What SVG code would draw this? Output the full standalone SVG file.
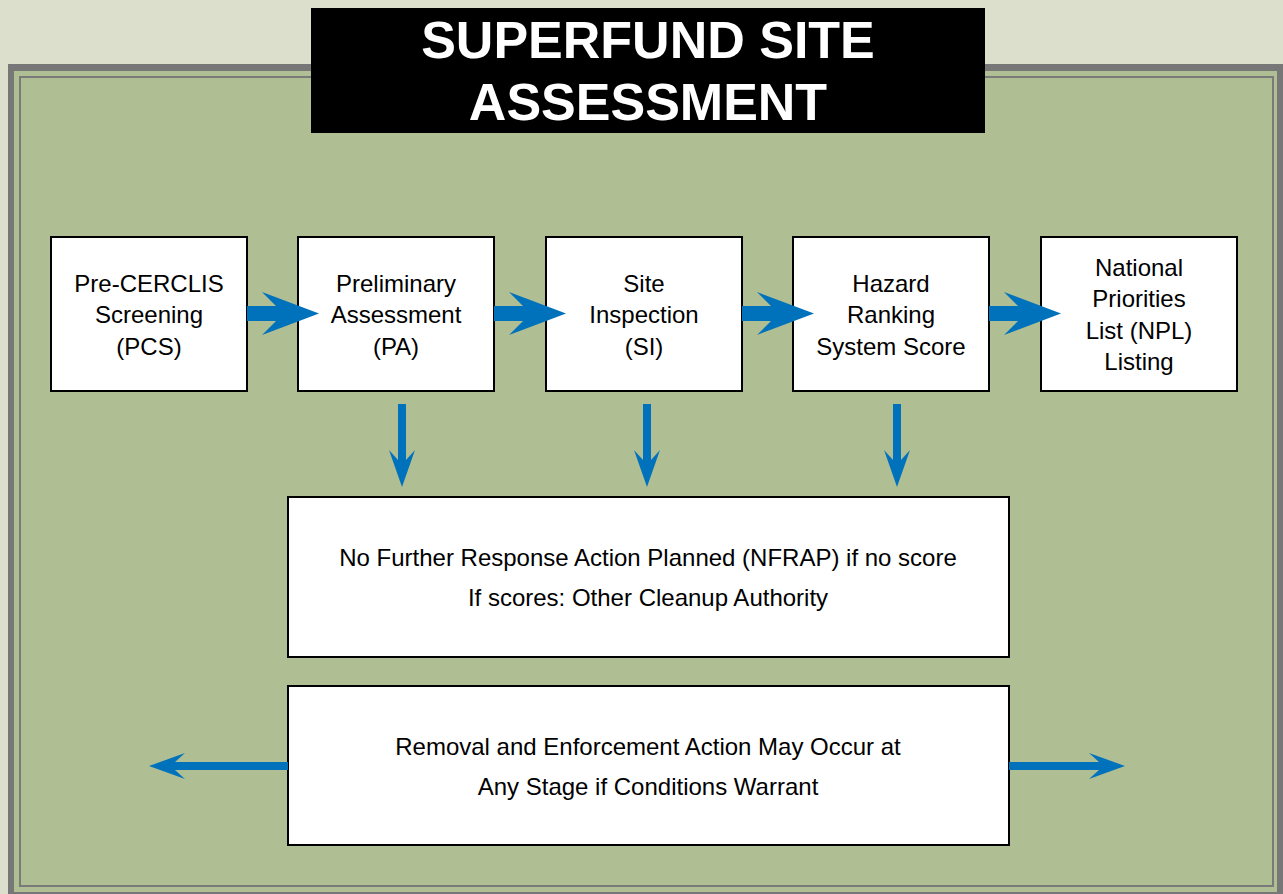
<svg xmlns="http://www.w3.org/2000/svg" width="1283" height="894" viewBox="0 0 1283 894">
<style>
.box{fill:#fff;stroke:#000;stroke-width:2}
.t{font-family:"Liberation Sans",Arial,sans-serif;font-size:24px;fill:#000;text-anchor:middle}
.title{font-family:"Liberation Sans",Arial,sans-serif;font-size:52px;font-weight:bold;fill:#fff;text-anchor:middle}
.arr{fill:#0072bc}
</style>
<rect width="1283" height="894" fill="#dbdfcc"/>
<rect x="8" y="64" width="1283" height="840" fill="#777"/>
<rect x="14" y="71" width="1263" height="821" fill="#b0bf93"/>
<rect x="20" y="77" width="1253" height="809" fill="none" stroke="#7a7a7a" stroke-width="2"/>
<g id="title">
<rect x="311" y="8" width="674" height="125" fill="#000"/>
<text class="title" x="648" y="58">SUPERFUND SITE</text>
<text class="title" x="648" y="120">ASSESSMENT</text>
</g>
<g id="pcs">
<rect class="box" x="51" y="237" width="196" height="154"/>
<text class="t" x="149" y="292">Pre-CERCLIS</text>
<text class="t" x="149" y="323">Screening</text>
<text class="t" x="149" y="355">(PCS)</text>
</g>
<g id="pa">
<rect class="box" x="298" y="237" width="196" height="154"/>
<text class="t" x="396" y="292">Preliminary</text>
<text class="t" x="396" y="323">Assessment</text>
<text class="t" x="396" y="355">(PA)</text>
</g>
<g id="si">
<rect class="box" x="546" y="237" width="196" height="154"/>
<text class="t" x="644" y="292">Site</text>
<text class="t" x="644" y="323">Inspection</text>
<text class="t" x="644" y="355">(SI)</text>
</g>
<g id="hrs">
<rect class="box" x="793" y="237" width="196" height="154"/>
<text class="t" x="891" y="292">Hazard</text>
<text class="t" x="891" y="323">Ranking</text>
<text class="t" x="891" y="355">System Score</text>
</g>
<g id="npl">
<rect class="box" x="1041" y="237" width="196" height="154"/>
<text class="t" x="1139" y="276">National</text>
<text class="t" x="1139" y="307">Priorities</text>
<text class="t" x="1139" y="339">List (NPL)</text>
<text class="t" x="1139" y="370">Listing</text>
</g>
<g id="nfrap">
<rect class="box" x="288" y="497" width="721" height="160"/>
<text class="t" x="648" y="566">No Further Response Action Planned (NFRAP) if no score</text>
<text class="t" x="648" y="606">If scores: Other Cleanup Authority</text>
</g>
<g id="removal">
<rect class="box" x="288" y="686" width="721" height="159"/>
<text class="t" x="648" y="755">Removal and Enforcement Action May Occur at</text>
<text class="t" x="648" y="795">Any Stage if Conditions Warrant</text>
</g>
<g id="connectors">
<polygon class="arr" points="247,306 276,306 262,292 319,313.5 262,335 276,321 247,321"/>
<polygon class="arr" points="494,306 523,306 509,292 566,313.5 509,335 523,321 494,321"/>
<polygon class="arr" points="742,306 771,306 757,292 814,313.5 757,335 771,321 742,321"/>
<polygon class="arr" points="989,306 1018,306 1004,292 1061,313.5 1004,335 1018,321 989,321"/>
<polygon class="arr" points="398,404 406,404 406,460 415,450 402,487 389,450 398,460"/>
<polygon class="arr" points="643,404 651,404 651,460 660,450 647,487 634,450 643,460"/>
<polygon class="arr" points="893,404 901,404 901,460 910,450 897,487 884,450 893,460"/>
<polygon class="arr" points="288,762 175,762 185,753 149,766 185,779 175,770 288,770"/>
<polygon class="arr" points="1009,762 1099,762 1089,753 1125,766 1089,779 1099,770 1009,770"/>
</g>
</svg>
